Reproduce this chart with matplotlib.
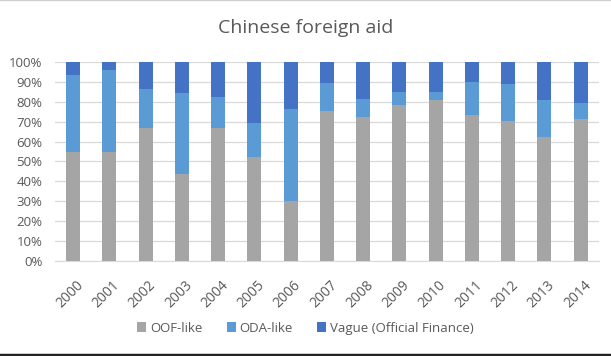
import matplotlib.pyplot as plt
from matplotlib.ticker import PercentFormatter
from matplotlib.lines import Line2D

years = ['2000', '2001', '2002', '2003', '2004', '2005', '2006', '2007',
         '2008', '2009', '2010', '2011', '2012', '2013', '2014']
# shares in percent
oof = [54.5, 54.5, 67.0, 43.6, 67.0, 52.2, 29.9, 75.5, 72.1, 78.4, 80.9, 73.3, 70.5, 62.1, 71.3]
oda = [38.8, 41.3, 19.4, 40.8, 15.4, 16.9, 46.4, 13.8, 9.4, 6.7, 4.2, 16.8, 18.3, 18.6, 7.9]
vague = [100 - a - b for a, b in zip(oof, oda)]

text_color = '#595959'
plt.rcParams['font.family'] = ['Open Sans', 'DejaVu Sans']

fig = plt.figure(figsize=(6.11, 3.56), dpi=100)
ax = fig.add_axes([0.090, 0.267, 0.890, 0.559])

x = range(len(years))
w = 0.39
ax.bar(x, oof, w, color='#A5A5A5', label='OOF-like', zorder=3)
ax.bar(x, oda, w, bottom=oof, color='#5B9BD5', label='ODA-like', zorder=3)
bottom2 = [a + b for a, b in zip(oof, oda)]
ax.bar(x, vague, w, bottom=bottom2, color='#4472C4', label='Vague (Official Finance)', zorder=3)

ax.set_xlim(-0.5, len(years) - 0.5)
ax.set_ylim(0, 100)
ax.set_yticks(range(0, 101, 10))
ax.yaxis.set_major_formatter(PercentFormatter(decimals=0))
ax.set_xticks([i + 0.08 for i in x])
ax.set_xticklabels(years, rotation=45, ha='right', rotation_mode='anchor')
ax.grid(axis='y', color='#D9D9D9', linewidth=0.9, zorder=0)
for s in ['top', 'right', 'left']:
    ax.spines[s].set_visible(False)
ax.spines['bottom'].set_color('#D9D9D9')
ax.tick_params(length=0, colors=text_color)
ax.tick_params(axis='y', labelsize=9.5, pad=9)
ax.tick_params(axis='x', labelsize=10, pad=12)

fig.text(0.5, 0.92, 'Chinese foreign aid', ha='center', va='center',
         fontsize=14, color=text_color)

fig.legend(loc='center', bbox_to_anchor=(0.5, 0.078), ncol=3, frameon=False,
           fontsize=9.5, labelcolor=text_color, handlelength=0.7, handleheight=0.7,
           handletextpad=0.3, columnspacing=1.8)

# dark edge at the bottom of the picture
fig.add_artist(Line2D([0, 1], [0.004, 0.004], color='#222222', linewidth=2.5))
fig.add_artist(Line2D([0, 1], [0.999, 0.999], color='#D0D0D0', linewidth=1))

fig.savefig('out.png', dpi=100)
